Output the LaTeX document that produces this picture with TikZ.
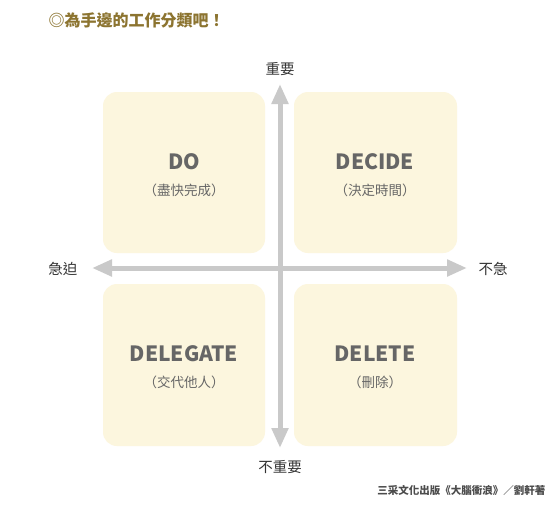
\documentclass[tikz,border=0pt]{standalone}
\usepackage{fontspec}
\setmainfont{Noto Sans CJK TC}
\newfontfamily\cjk{Noto Sans CJK TC}
\usetikzlibrary{arrows.meta}
\definecolor{boxfill}{HTML}{FCF6DE}
\definecolor{axisgray}{HTML}{C9C9C9}
\definecolor{titlegold}{HTML}{8C7430}
\definecolor{textgray}{HTML}{666666}
\tikzset{
  quad/.style={fill=boxfill, rounded corners=14pt, draw=none},
  axisline/.style={draw=axisgray, line width=5pt, {Triangle[width=16pt,length=20pt]}-{Triangle[width=16pt,length=20pt]}},
  bigtitle/.style={font=\cjk\bfseries\fontsize{21}{24}\selectfont, text=textgray},
  subtitle/.style={font=\cjk\fontsize{13.5}{16}\selectfont, text=textgray},
  axislabel/.style={font=\cjk\fontsize{14.5}{17}\selectfont, text=black!80},
}
\begin{document}
\begin{tikzpicture}[x=1pt,y=-1pt]
\useasboundingbox (0,0) rectangle (555,515);
\fill[white] (0,0) rectangle (555,515);
\node[anchor=west, font=\cjk\bfseries\fontsize{16}{19}\selectfont, text=titlegold] (title) at (45,20) {◎為手邊的工作分類吧！};
% quadrants
\path[quad] (103,92) rectangle (265,253);
\path[quad] (294,92) rectangle (457,253);
\path[quad] (103,284) rectangle (265,446);
\path[quad] (294,284) rectangle (457,446);
% axes
\coordinate (top) at (280,84);
\coordinate (bot) at (280,448);
\coordinate (left) at (92,268);
\coordinate (right) at (467,268);
\draw[axisline] (bot) -- (top);
\draw[axisline] (left) -- (right);
% box texts
\node[bigtitle] (do) at (184,162) {DO};
\node[subtitle] (dos) at (184,190) {（盡快完成）};
\node[bigtitle] (decide) at (375,162) {DECIDE};
\node[subtitle] (decides) at (375,190) {（決定時間）};
\node[bigtitle] (delegate) at (184,354) {DELEGATE};
\node[subtitle] (delegates) at (184,382) {（交代他人）};
\node[bigtitle] (delete) at (375,354) {DELETE};
\node[subtitle] (deletes) at (375,382) {（刪除）};
% axis labels
\node[axislabel] (imp) at (280,69) {重要};
\node[axislabel] (notimp) at (280,467) {不重要};
\node[axislabel] (urgent) at (63,269) {急迫};
\node[axislabel] (noturgent) at (493,269) {不急};
% footer
\node[anchor=east, font=\cjk\bfseries\fontsize{10.5}{12}\selectfont, text=black!70] (footer) at (549,490) {三采文化出版《大腦衝浪》／劉軒著};
\end{tikzpicture}
\end{document}
